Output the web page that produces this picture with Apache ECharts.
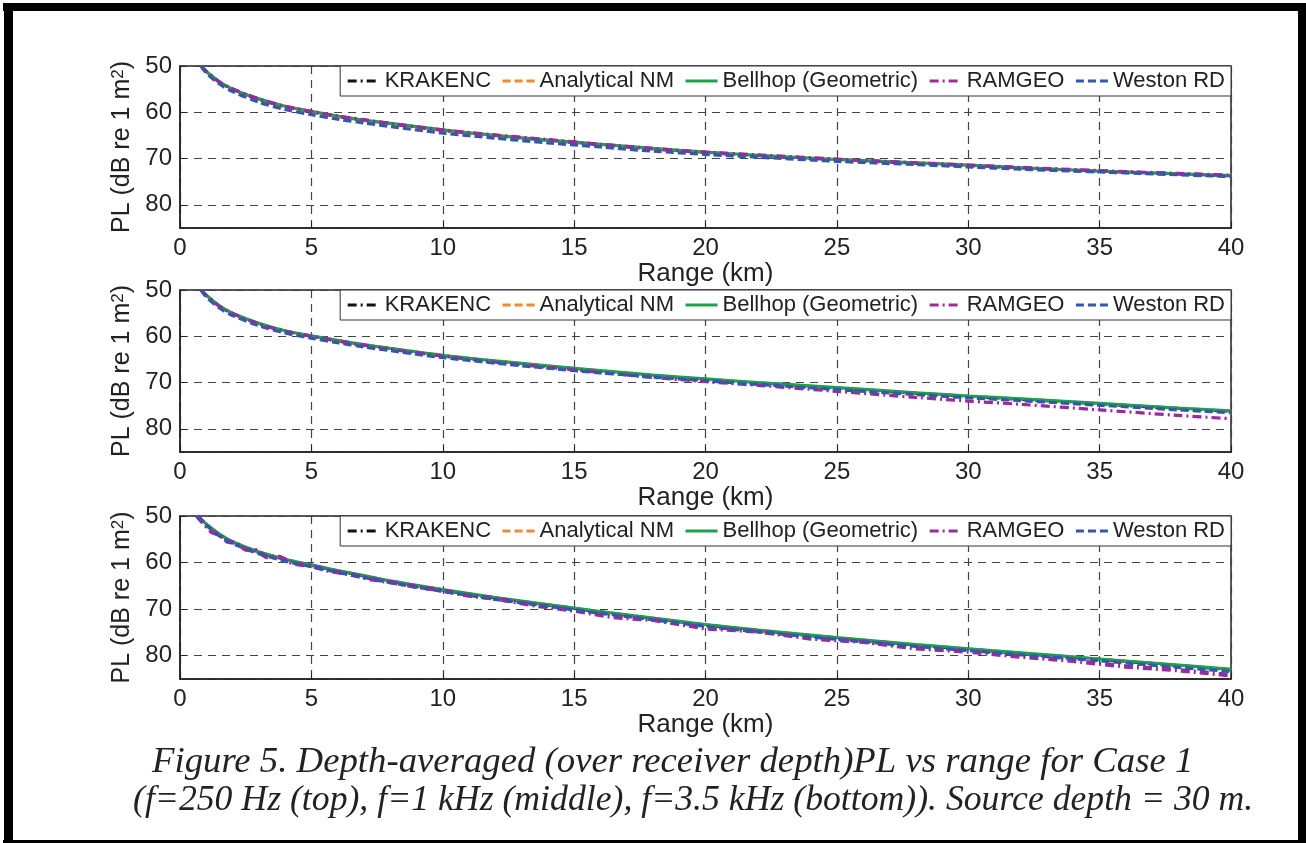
<!DOCTYPE html>
<html><head><meta charset="utf-8">
<script src="https://cdn.jsdelivr.net/npm/echarts@6/dist/echarts.min.js"></script>
<style>html,body{margin:0;padding:0;background:#fff}#c{width:1306px;height:843px}</style>
</head><body><div id="c"></div><script>
// ---- data ----
const seriesNames = ['KRAKENC', 'Analytical NM', 'Bellhop (Geometric)', 'RAMGEO', 'Weston RD'];
const xTicks = [0, 5, 10, 15, 20, 25, 30, 35, 40];
const yTicks = [50, 60, 70, 80];

// Panel 1: f = 250 Hz
const range1 = [0.8,1,1.5,2,3,4,5,6,7,8,10,12,14,16,18,20,22,25,28,30,32,35,38,40];
const krak1 = [50.0,51.2,53.5,55.0,57.2,58.8,59.9,60.9,61.7,62.5,63.9,65.0,66.0,67.0,67.9,68.7,69.3,70.2,71.0,71.5,72.0,72.7,73.3,73.7];
const anal1 = [50.0,51.2,53.5,55.0,57.2,58.8,59.9,60.9,61.8,62.5,63.9,65.1,66.0,67.0,67.9,68.7,69.4,70.2,71.0,71.5,72.0,72.7,73.3,73.8];
const bell1 = [50.0,51.2,53.4,55.0,57.1,58.7,59.8,60.8,61.7,62.4,63.8,65.0,66.0,66.9,67.8,68.6,69.3,70.2,70.9,71.4,72.0,72.7,73.3,73.7];
const ram1  = [50.0,51.1,53.4,54.9,57.1,58.7,59.8,60.8,61.6,62.4,63.8,64.9,65.9,66.9,67.8,68.6,69.2,70.1,70.9,71.4,71.9,72.6,73.2,73.6];
const west1 = [50.0,51.5,53.9,55.5,57.8,59.4,60.5,61.5,62.3,63.1,64.5,65.6,66.6,67.5,68.4,69.1,69.7,70.6,71.3,71.8,72.3,72.9,73.5,73.9];

// Panel 2: f = 1 kHz
const range2 = [0.8,1,1.5,2,3,4,5,6,7,8,10,12,14,16,18,20,22,25,28,30,32,35,38,40];
const krak2 = [50.0,51.2,53.5,55.1,57.3,58.9,60.0,61.0,61.9,62.7,64.2,65.4,66.5,67.5,68.5,69.3,70.1,71.2,72.3,73.0,73.6,74.6,75.6,76.2];
const anal2 = [50.0,51.2,53.5,55.1,57.3,58.9,60.0,61.0,61.9,62.7,64.2,65.4,66.5,67.5,68.5,69.3,70.1,71.2,72.3,73.0,73.6,74.6,75.6,76.3];
const bell2 = [50.0,51.1,53.4,55.0,57.2,58.8,59.9,60.9,61.8,62.6,64.1,65.3,66.4,67.4,68.4,69.2,70.0,71.1,72.2,72.9,73.5,74.5,75.5,76.1];
const ram2  = [50.0,51.2,53.5,55.1,57.3,58.9,60.0,61.0,61.9,62.8,64.3,65.6,66.7,67.8,68.9,69.8,70.6,71.9,73.2,74.0,74.7,75.9,77.1,77.8];
const west2 = [50.0,51.5,53.9,55.5,57.7,59.3,60.4,61.4,62.3,63.1,64.6,65.8,66.9,67.9,68.8,69.6,70.4,71.5,72.6,73.3,73.9,74.9,75.9,76.5];

// Panel 3: f = 3.5 kHz
const range3 = [0.65,1,1.5,2,3,4,5,6,7,8,10,12,14,16,18,20,22,25,28,30,32,35,38,40];
const krak3 = [50.0,51.8,54.0,55.6,57.8,59.4,60.6,61.8,62.9,64.0,65.9,67.6,69.1,70.6,72.0,73.4,74.6,76.2,77.7,78.6,79.5,80.8,82.1,83.0];
const anal3 = [50.0,51.8,54.0,55.6,57.8,59.4,60.6,61.8,62.9,64.0,65.9,67.6,69.1,70.6,72.0,73.4,74.6,76.2,77.7,78.6,79.5,80.8,82.1,83.1];
const bell3 = [50.0,51.7,53.9,55.5,57.7,59.3,60.5,61.7,62.8,63.9,65.8,67.5,69.0,70.5,71.9,73.3,74.5,76.1,77.6,78.5,79.4,80.7,82.0,82.9];
const ram3Range = [0.65,0.9,1.2,1.5,1.8,2.1,2.5,2.9,3.3,3.8,4.3,5,5.7,6.4,7.2,8,9,10,11,12,13.5,15,16.5,18,20,22,24,26,28,30,32,34,36,38,40];
const ram3  = [50.0,51.6,53.4,54.0,55.5,55.7,57.2,57.4,58.8,58.8,60.2,60.7,61.8,62.4,63.5,64.2,65.2,66.0,67.1,67.7,69.2,70.3,71.7,72.3,74.1,74.8,76.3,77.0,78.4,79.1,80.2,81.1,82.3,83.1,84.2];
const west3 = [50.0,52.0,54.3,55.9,58.1,59.7,60.9,62.1,63.2,64.3,66.2,67.9,69.4,70.9,72.3,73.7,74.9,76.5,78.0,78.9,79.8,81.1,82.5,83.4];

// ---- styles ----
const colors = ['#111111', '#ef8a34', '#1fa04a', '#9c2a9c', '#3355b3'];
const dashes = [[9,4,2,4], [8,4], 'solid', [9,4,2,4], [8,4]];

const panels = [
  {top: 66, height: 162, sets: [[range1,krak1],[range1,anal1],[range1,bell1],[range1,ram1],[range1,west1]]},
  {top: 290, height: 162, sets: [[range2,krak2],[range2,anal2],[range2,bell2],[range2,ram2],[range2,west2]]},
  {top: 516, height: 163, sets: [[range3,krak3],[range3,anal3],[range3,bell3],[ram3Range,ram3],[range3,west3]]}
];

const FONT = 'Liberation Sans, Arial, sans-serif';
const grids = [], xAxes = [], yAxes = [], series = [], legends = [];
panels.forEach((p, i) => {
  grids.push({left: 180, right: 75, top: p.top, height: p.height, show: true,
    borderColor: '#222', borderWidth: 1.5, backgroundColor: 'transparent'});
  xAxes.push({type: 'value', gridIndex: i, min: 0, max: 40, interval: 5,
    name: 'Range (km)', nameLocation: 'middle', nameGap: 19,
    nameTextStyle: {fontFamily: FONT, fontSize: 26, color: '#222'},
    axisLine: {show: true, onZero: false, lineStyle: {color: '#222', width: 1.5}},
    axisTick: {show: true, inside: true, length: 6, lineStyle: {color: '#222'}},
    axisLabel: {fontFamily: FONT, fontSize: 24, color: '#222', margin: 8},
    splitLine: {show: true, lineStyle: {color: '#444', width: 1.2, type: [8, 6]}}
  });
  yAxes.push({type: 'value', gridIndex: i, min: 50, max: 85, interval: 10, inverse: true,
    name: 'PL (dB re 1 m{sup|2})', nameLocation: 'middle', nameGap: 42, nameRotate: 90,
    nameTextStyle: {fontFamily: FONT, fontSize: 25, color: '#222',
      rich: {sup: {fontFamily: FONT, fontSize: 17, color: '#222', verticalAlign: 'top', padding: [0,0,8,0]}}},
    axisLine: {show: true, lineStyle: {color: '#222', width: 1.5}},
    axisTick: {show: true, inside: true, length: 6, lineStyle: {color: '#222'}},
    axisLabel: {fontFamily: FONT, fontSize: 24, color: '#222', margin: 8, showMaxLabel: false,
      formatter: v => (yTicks.indexOf(v) >= 0 ? String(v) : '')},
    splitLine: {show: true, lineStyle: {color: '#444', width: 1.2, type: [8, 6]}}
  });
  p.sets.forEach((s, k) => {
    const jag = (i === 2 && k === 3);
    series.push({type: 'line', name: seriesNames[k], xAxisIndex: i, yAxisIndex: i,
      data: s[0].map((x, j) => [x, s[1][j]]), symbol: 'none', smooth: jag ? false : 0.3,
      lineStyle: {color: colors[k], width: jag ? 4.5 : 3.2, type: dashes[k]}, itemStyle: {color: colors[k]},
      z: 3 + k});
  });
  legends.push({top: p.top, right: 75, orient: 'horizontal', data: seriesNames,
    itemWidth: 32, itemHeight: 14, itemGap: 10, padding: [4, 6],
    itemStyle: {opacity: 0}, lineStyle: {width: 3},
    backgroundColor: '#fff', borderColor: '#333', borderWidth: 1, borderRadius: 0,
    textStyle: {fontFamily: FONT, fontSize: 22, color: '#222'}, selectedMode: false, z: 20});
});

const chart = echarts.init(document.getElementById('c'), null, {renderer: 'canvas'});
chart.setOption({
  animation: false,
  backgroundColor: '#fff',
  grid: grids, xAxis: xAxes, yAxis: yAxes, series: series, legend: legends,
  graphic: [
    {type: 'rect', shape: {x: 3, y: 3, width: 1303, height: 8}, style: {fill: '#000'}, z: 100},
    {type: 'rect', shape: {x: 4, y: 3, width: 9, height: 840}, style: {fill: '#000'}, z: 100},
    {type: 'rect', shape: {x: 1298, y: 3, width: 8, height: 840}, style: {fill: '#000'}, z: 100},
    {type: 'rect', shape: {x: 3, y: 840, width: 1303, height: 3}, style: {fill: '#000'}, z: 100},
    {type: 'text', x: 152, y: 745, scaleX: 1.05, z: 100, style: {text: 'Figure 5. Depth-averaged (over receiver depth)PL vs range for Case 1',
      fontFamily: 'Liberation Serif, Times New Roman, serif', fontStyle: 'italic', fontSize: 35, fill: '#222'}},
    {type: 'text', x: 133, y: 783, scaleX: 1.02, z: 100, style: {text: '(f=250 Hz (top), f=1 kHz (middle), f=3.5 kHz (bottom)). Source depth = 30 m.',
      fontFamily: 'Liberation Serif, Times New Roman, serif', fontStyle: 'italic', fontSize: 35, fill: '#222'}}
  ]
});
</script></body></html>
